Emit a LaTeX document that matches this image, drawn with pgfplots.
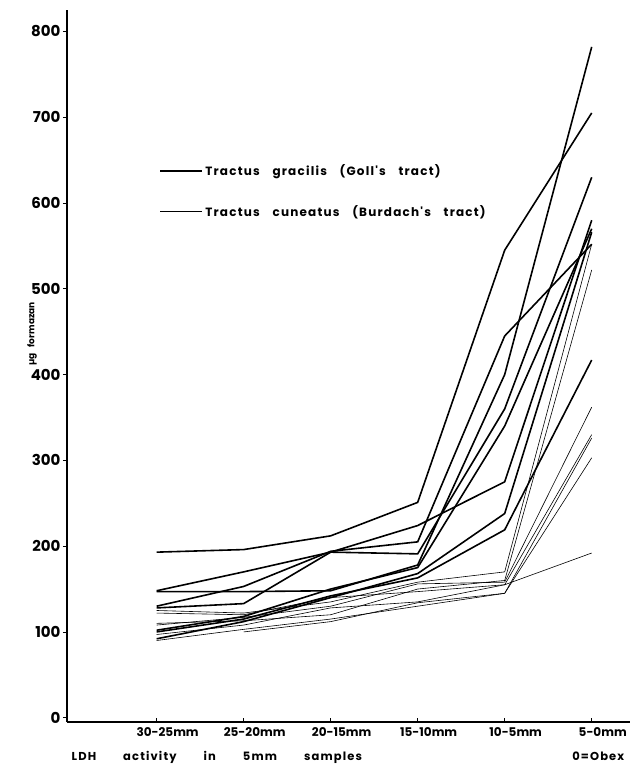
\documentclass[border=0pt]{standalone}
\usepackage{fontspec}
\setmainfont{Poppins}[WordSpace=1.8]
\newfontfamily\ls{Poppins}[LetterSpace=10, WordSpace=3.4]
\usepackage{pgfplots}
\pgfplotsset{compat=1.18}
\begin{document}
\begin{tikzpicture}
\useasboundingbox (-67pt,-42pt) rectangle (567pt,722pt);
\begin{axis}[
  at={(0,0)}, anchor=south west,
  width=563pt, height=712pt, scale only axis,
  xmin=-1.03, xmax=5.44, ymin=-5, ymax=825,
  axis lines=left, axis line style={line width=1.3pt,-},
  xtick={0,...,5},
  xticklabels={30-25mm,25-20mm,20-15mm,15-10mm,10-5mm,5-0mm},
  ytick={0,100,...,800},
  tick align=outside, major tick length=4pt,
  tick style={line width=0.8pt, black},
  xtick style={yshift=4pt},
  x tick label style={font=\bfseries\fontsize{12}{12}\selectfont, yshift=2pt, xshift=11pt},
  y tick label style={font=\bfseries\fontsize{15}{15}\selectfont, xshift=1pt},
  /pgf/number format/assume math mode=true,
  legend style={draw=none, fill=none, at={(axis description cs:0.164,0.7855)}, anchor=north west,
    font=\ls\bfseries\fontsize{12}{14}\selectfont, row sep=24pt, inner sep=0pt},
  legend cell align=left,
  legend image code/.code={\draw[#1] (0pt,0pt) -- (35pt,0pt); \path (0pt,0pt) -- (42pt,0pt);},
  clip=false,
]
\addlegendimage{black, line width=1.8pt}
\addlegendentry{Tractus gracilis (Goll's tract)}
\addlegendimage{black, line width=0.6pt}
\addlegendentry{Tractus cuneatus (Burdach's tract)}
% Tractus gracilis (thick)
\addplot[black, line width=1.6pt, forget plot] coordinates {(0,193) (1,196) (2,212) (3,251) (4,545) (5,705)};
\addplot[black, line width=1.6pt, forget plot] coordinates {(0,148) (1,170) (2,193) (3,224) (4,275) (5,580)};
\addplot[black, line width=1.6pt, forget plot] coordinates {(0,147) (1,147) (2,148) (3,178) (4,400) (5,782)};
\addplot[black, line width=1.6pt, forget plot] coordinates {(0,130) (1,153) (2,194) (3,205) (4,445) (5,552)};
\addplot[black, line width=1.6pt, forget plot] coordinates {(0,128) (1,133) (2,193) (3,191) (4,360) (5,630)};
\addplot[black, line width=1.6pt, forget plot] coordinates {(0,102) (1,118) (2,150) (3,175) (4,340) (5,570)};
\addplot[black, line width=1.6pt, forget plot] coordinates {(0,92) (1,112) (2,140) (3,168) (4,238) (5,566)};
\addplot[black, line width=1.6pt, forget plot] coordinates {(0,100) (1,115) (2,142) (3,163) (4,219) (5,417)};
% Tractus cuneatus (thin)
\addplot[black, line width=0.6pt, forget plot] coordinates {(0,125) (1,122) (2,135) (3,158) (4,170) (5,552)};
\addplot[black, line width=0.6pt, forget plot] coordinates {(0,110) (1,113) (2,120) (3,150) (4,160) (5,522)};
\addplot[black, line width=0.6pt, forget plot] coordinates {(0,108) (1,117) (2,130) (3,156) (4,158) (5,362)};
\addplot[black, line width=0.6pt, forget plot] coordinates {(0,97) (1,108) (2,128) (3,135) (4,155) (5,330)};
\addplot[black, line width=0.6pt, forget plot] coordinates {(0,90) (1,103) (2,115) (3,130) (4,145) (5,326)};
\addplot[black, line width=0.6pt, forget plot] coordinates {(1,100) (2,112) (3,134) (4,145) (5,303)};
\addplot[black, line width=0.6pt, forget plot] coordinates {(0,122) (1,120) (2,140) (3,147) (4,155) (5,192)};
\node[rotate=90, font=\bfseries\fontsize{9}{9}\selectfont] at (axis description cs:-0.062,0.545) {µg\hspace{6pt}formazan};
\node[anchor=base west, font=\ls\bfseries\fontsize{11.5}{11.5}\selectfont] at (axis description cs:0.002,-0.054) {LDH\hspace{27pt}activity\hspace{27pt}in\hspace{27pt}5mm\hspace{27pt}samples};
\node[anchor=base east, font=\ls\bfseries\fontsize{11.5}{11.5}\selectfont] at (axis description cs:0.996,-0.054) {0=Obex};
\end{axis}
\end{tikzpicture}
\end{document}
